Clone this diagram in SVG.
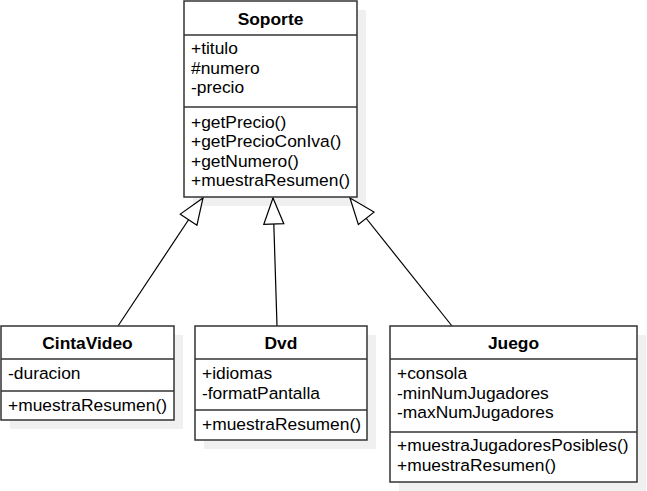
<svg xmlns="http://www.w3.org/2000/svg" width="647" height="491" viewBox="0 0 647 491">
<style>
text{font-family:"Liberation Sans",Arial,sans-serif;font-size:17.4px;fill:#000}
.h{font-weight:bold;text-anchor:middle}
.box{fill:#fff;stroke:#333;stroke-width:1.5}
.sep{stroke:#333;stroke-width:1.5}
.sh{fill:#f0f0f0}
.edge{stroke:#000;stroke-width:1.2;fill:none}
</style>
<defs>
<marker id="inh" markerUnits="userSpaceOnUse" markerWidth="30" markerHeight="24" viewBox="0 0 30 24" refX="28" refY="12" orient="auto">
<path d="M2,2 L28,12 L2,22 Z" fill="#fff" stroke="#000" stroke-width="1.2"/>
</marker>
</defs>
<g id="shadows">
<rect class="sh" x="193" y="10" width="173" height="196"/>
<rect class="sh" x="10" y="335" width="173" height="94"/>
<rect class="sh" x="204" y="335" width="172" height="114"/>
<rect class="sh" x="399" y="335" width="247" height="156"/>
</g>
<g id="connectors">
<line class="edge" x1="118" y1="326" x2="203" y2="198" marker-end="url(#inh)"/>
<line class="edge" x1="277" y1="326" x2="273" y2="198" marker-end="url(#inh)"/>
<line class="edge" x1="452" y1="326" x2="350" y2="198" marker-end="url(#inh)"/>
</g>
<g id="Soporte">
<rect class="box" x="184" y="1" width="173" height="196"/>
<line class="sep" x1="184" y1="35" x2="357" y2="35"/>
<line class="sep" x1="184" y1="107" x2="357" y2="107"/>
<text class="h" x="270.5" y="25">Soporte</text>
<text x="191" y="54">+titulo</text>
<text x="191" y="73.5">#numero</text>
<text x="191" y="93">-precio</text>
<text x="191" y="127.5">+getPrecio()</text>
<text x="191" y="147">+getPrecioConIva()</text>
<text x="191" y="166.5">+getNumero()</text>
<text x="191" y="186">+muestraResumen()</text>
</g>
<g id="CintaVideo">
<rect class="box" x="1" y="326" width="173" height="94"/>
<line class="sep" x1="1" y1="359" x2="174" y2="359"/>
<line class="sep" x1="1" y1="391" x2="174" y2="391"/>
<text class="h" x="87.5" y="349">CintaVideo</text>
<text x="8" y="379">-duracion</text>
<text x="8" y="410.5">+muestraResumen()</text>
</g>
<g id="Dvd">
<rect class="box" x="195" y="326" width="172" height="114"/>
<line class="sep" x1="195" y1="359" x2="367" y2="359"/>
<line class="sep" x1="195" y1="410" x2="367" y2="410"/>
<text class="h" x="281" y="349">Dvd</text>
<text x="202" y="379">+idiomas</text>
<text x="202" y="399">-formatPantalla</text>
<text x="202" y="430">+muestraResumen()</text>
</g>
<g id="Juego">
<rect class="box" x="390" y="326" width="247" height="156"/>
<line class="sep" x1="390" y1="359" x2="637" y2="359"/>
<line class="sep" x1="390" y1="432" x2="637" y2="432"/>
<text class="h" x="513.5" y="349">Juego</text>
<text x="397" y="378.5">+consola</text>
<text x="397" y="398.5">-minNumJugadores</text>
<text x="397" y="418">-maxNumJugadores</text>
<text x="397" y="451">+muestraJugadoresPosibles()</text>
<text x="397" y="470.5">+muestraResumen()</text>
</g>
</svg>
